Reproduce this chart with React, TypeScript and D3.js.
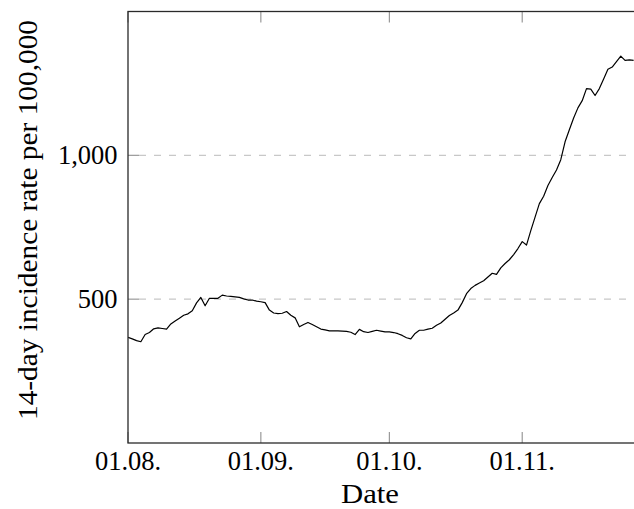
import React from "react";
import * as d3 from "d3";

// 14-day incidence rate per 100,000, one value per day starting 01.08.
const startDate = "2020-08-01";
const incidence: number[] = [
  367, 362, 356, 352, 377, 384, 397, 400, 398, 396,
  414, 424, 434, 444, 449, 460, 487, 506, 477, 503,
  503, 503, 514, 511, 510, 508, 506, 501, 497, 497,
  493, 491, 488, 462, 452, 450, 451, 457, 444, 435,
  404, 412, 419, 412, 404, 396, 393, 390, 390, 390,
  389, 388, 385, 377, 395, 387, 384, 388, 392, 389,
  386, 386, 384, 380, 374, 366, 362, 381, 392, 392,
  396, 399, 409, 417, 430, 443, 452, 462, 488, 519,
  537, 548, 556, 564, 577, 590, 586, 609, 624, 637,
  655, 676, 700, 688, 738, 785, 832, 858, 895, 923,
  949, 985, 1047, 1089, 1130, 1165, 1190, 1232, 1230, 1208,
  1232, 1265, 1299, 1307, 1326, 1345, 1330, 1332, 1330,
];

const xTickDates = ["2020-08-01", "2020-09-01", "2020-10-01", "2020-11-01"];
const yTickValues = [500, 1000];
const xDomain = ["2020-08-01", "2020-11-28"];
const yDomain = [0, 1500];

const W = 634;
const H = 509;
const FONT = "'Liberation Serif', 'Times New Roman', serif";

export default function App() {
  const parse = d3.utcParse("%Y-%m-%d");
  const start = parse(startDate)!;
  const data = incidence.map((v, i) => ({ date: d3.utcDay.offset(start, i), v }));

  const left = 128;
  const top = 11.5;
  const bottom = 443;
  const x = d3
    .scaleUtc()
    .domain(xDomain.map((s) => parse(s)!))
    .range([left, left + 119 * 4.285]);
  const y = d3.scaleLinear().domain(yDomain).range([bottom, top]);
  const right = x.range()[1];

  const line = d3
    .line<{ date: Date; v: number }>()
    .x((d) => x(d.date))
    .y((d) => y(d.v));

  const fmtDate = d3.utcFormat("%d.%m.");
  const fmtNum = d3.format(",");
  const tickLen = 11;

  return (
    <svg
      width={W}
      height={H}
      style={{ position: "absolute", left: 0, top: 0, background: "#fff" }}
      fontFamily={FONT}
    >
      <defs>
        <clipPath id="plot">
          <rect x={left} y={top} width={right - left} height={bottom - top} />
        </clipPath>
      </defs>

      {/* horizontal grid */}
      {yTickValues.map((t) => (
        <line
          key={"g" + t}
          x1={left + tickLen}
          x2={right}
          y1={y(t)}
          y2={y(t)}
          stroke="#c8c8c8"
          strokeWidth={1.2}
          strokeDasharray="7 8"
        />
      ))}

      {/* x ticks, bottom and top */}
      {xTickDates.map((s) => {
        const xv = x(parse(s)!);
        return (
          <g key={"x" + s}>
            <line x1={xv} x2={xv} y1={bottom} y2={bottom - tickLen} stroke="#999" strokeWidth={1.2} />
            <line x1={xv} x2={xv} y1={top} y2={top + tickLen} stroke="#999" strokeWidth={1.2} />
            <text x={xv} y={470} textAnchor="middle" fontSize={26.5} fill="#000">
              {fmtDate(parse(s)!)}
            </text>
          </g>
        );
      })}

      {/* y ticks */}
      {yTickValues.map((t) => (
        <g key={"y" + t}>
          <line x1={left} x2={left + tickLen} y1={y(t)} y2={y(t)} stroke="#999" strokeWidth={1.2} />
          <text x={117.5} y={y(t) + 8.7} textAnchor="end" fontSize={26.5} fill="#000">
            {fmtNum(t)}
          </text>
        </g>
      ))}

      {/* series */}
      <path
        d={line(data) ?? ""}
        fill="none"
        stroke="#000"
        strokeWidth={1.2}
        strokeLinejoin="round"
        clipPath="url(#plot)"
      />

      {/* axis frame */}
      <rect
        x={left}
        y={top}
        width={right - left}
        height={bottom - top}
        fill="none"
        stroke="#2a2a2a"
        strokeWidth={1.3}
      />

      {/* axis titles */}
      <text
        x={341}
        y={503}
        fontSize={26.5}
        fill="#000"
        textLength={58}
        lengthAdjust="spacingAndGlyphs"
      >
        Date
      </text>
      <text
        transform={`translate(37, 420) rotate(-90)`}
        fontSize={26.5}
        fill="#000"
        textLength={400}
        lengthAdjust="spacingAndGlyphs"
      >
        14-day incidence rate per 100,000
      </text>
    </svg>
  );
}
